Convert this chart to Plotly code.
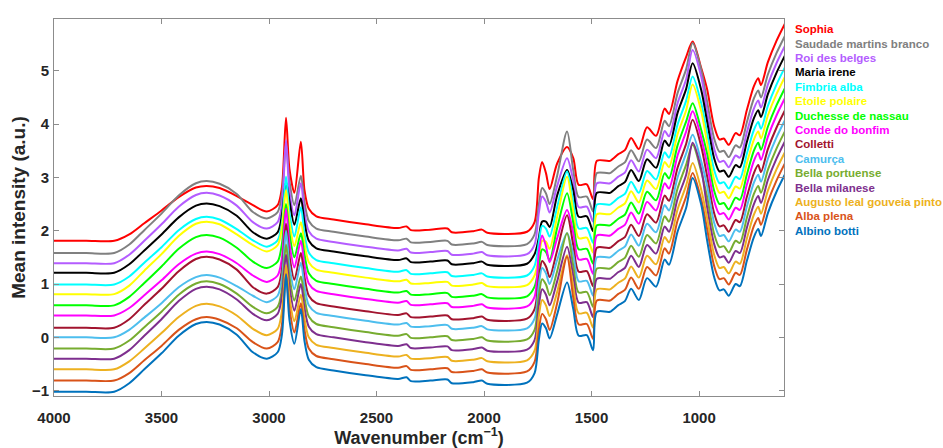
import plotly.graph_objects as go

wavenumber = [4000, 3850, 3720, 3650, 3580, 3500, 3420, 3340, 3290, 3230,
              3150, 3075, 3010, 2960, 2940, 2921, 2905, 2882, 2852, 2835,
              2815, 2780, 2700, 2550, 2400, 2360, 2340, 2250, 2170, 2150,
              2050, 2010, 1985, 1800, 1765, 1745, 1730, 1712, 1695, 1660,
              1614, 1585, 1560, 1522, 1493, 1475, 1414, 1377, 1345, 1316,
              1280, 1242, 1200, 1160, 1140, 1100, 1060, 1030, 990, 963,
              930, 905, 885, 862, 830, 810, 778, 745, 725, 712,
              680, 640, 600]

names = ["Sophia", "Saudade martins branco", "Roi des belges", "Maria irene",
         "Fimbria alba", "Etoile polaire", "Duchesse de nassau", "Conde do bonfim",
         "Colletti", "Camurça", "Bella portuense", "Bella milanese",
         "Augusto leal gouveia pinto", "Alba plena", "Albino botti"]

colors = ["#FF0000", "#808080", "#B45CFF", "#000000", "#00FFFF", "#FFFF00",
          "#00FF00", "#FF00FF", "#A2142F", "#4DBEEE", "#77AC30", "#7E2F8E",
          "#EDB120", "#D95319", "#0072BD"]

sophia = [1.81, 1.81, 1.81, 1.93, 2.14, 2.38, 2.63, 2.81, 2.84, 2.80,
          2.65, 2.48, 2.36, 2.48, 2.81, 4.12, 3.16, 2.71, 3.67, 2.76,
          2.41, 2.27, 2.21, 2.12, 2.05, 2.08, 2.01, 2.02, 2.04, 1.97,
          1.99, 2.02, 1.96, 1.98, 2.16, 2.99, 3.29, 3.08, 2.78, 3.26,
          3.57, 3.36, 2.86, 2.87, 2.59, 3.31, 3.31, 3.43, 3.51, 3.74,
          3.53, 3.94, 3.78, 4.29, 4.19, 4.81, 5.26, 5.55, 5.05, 4.66,
          3.96, 3.71, 3.73, 3.61, 3.83, 3.79, 4.26, 4.71, 4.86, 4.73,
          5.16, 5.56, 5.89]
saudade = [1.58, 1.58, 1.58, 1.74, 2.01, 2.32, 2.66, 2.89, 2.93, 2.88,
           2.69, 2.35, 2.23, 2.35, 2.68, 3.63, 2.93, 2.48, 3.03, 2.53,
           2.18, 2.04, 1.98, 1.89, 1.82, 1.85, 1.78, 1.79, 1.81, 1.74,
           1.76, 1.79, 1.73, 1.75, 1.93, 2.50, 2.80, 2.70, 2.50, 3.03,
           3.86, 3.13, 2.63, 2.64, 2.36, 3.08, 3.08, 3.20, 3.28, 3.51,
           3.30, 3.71, 3.55, 4.06, 3.96, 4.58, 5.03, 5.52, 5.02, 4.43,
           3.73, 3.48, 3.50, 3.38, 3.60, 3.56, 4.03, 4.48, 4.63, 4.50,
           4.93, 5.33, 5.66]
roi = [1.39, 1.39, 1.39, 1.55, 1.81, 2.12, 2.45, 2.67, 2.71, 2.66,
       2.47, 2.16, 2.04, 2.16, 2.49, 3.70, 2.74, 2.29, 2.89, 2.34,
       1.99, 1.85, 1.79, 1.70, 1.63, 1.66, 1.59, 1.60, 1.62, 1.55,
       1.57, 1.60, 1.54, 1.56, 1.74, 2.34, 2.64, 2.54, 2.34, 2.84,
       3.36, 2.94, 2.44, 2.45, 2.17, 2.89, 2.89, 3.01, 3.09, 3.32,
       3.11, 3.52, 3.36, 3.87, 3.77, 4.39, 4.84, 5.39, 4.89, 4.24,
       3.54, 3.29, 3.31, 3.19, 3.41, 3.37, 3.84, 4.29, 4.44, 4.31,
       4.74, 5.14, 5.47]
maria = [1.21, 1.21, 1.21, 1.37, 1.63, 1.93, 2.25, 2.47, 2.51, 2.46,
         2.28, 1.97, 1.85, 1.97, 2.30, 2.92, 2.56, 2.11, 2.61, 2.16,
         1.81, 1.67, 1.61, 1.52, 1.45, 1.48, 1.41, 1.42, 1.44, 1.37,
         1.39, 1.42, 1.36, 1.38, 1.56, 1.87, 2.17, 2.17, 2.07, 2.66,
         3.14, 2.76, 2.26, 2.27, 1.99, 2.71, 2.71, 2.83, 2.91, 3.14,
         2.93, 3.34, 3.18, 3.69, 3.59, 4.21, 4.66, 5.14, 4.64, 4.06,
         3.36, 3.11, 3.13, 3.01, 3.23, 3.19, 3.66, 4.11, 4.26, 4.13,
         4.56, 4.96, 5.29]
fimbria = [0.99, 0.99, 0.99, 1.14, 1.40, 1.69, 2.01, 2.22, 2.26, 2.21,
           2.03, 1.82, 1.70, 1.82, 2.15, 3.01, 2.34, 1.89, 2.44, 1.94,
           1.59, 1.45, 1.39, 1.30, 1.23, 1.26, 1.19, 1.20, 1.22, 1.15,
           1.17, 1.20, 1.14, 1.16, 1.34, 1.79, 2.09, 2.04, 1.89, 2.44,
           3.11, 2.54, 2.04, 2.05, 1.77, 2.49, 2.49, 2.61, 2.69, 2.92,
           2.71, 3.12, 2.96, 3.47, 3.37, 3.99, 4.44, 4.89, 4.39, 3.84,
           3.14, 2.89, 2.91, 2.79, 3.01, 2.97, 3.44, 3.89, 4.04, 3.91,
           4.34, 4.74, 5.07]
etoile = [0.81, 0.81, 0.81, 0.97, 1.25, 1.56, 1.90, 2.13, 2.17, 2.12,
          1.93, 1.73, 1.61, 1.73, 2.06, 2.76, 2.16, 1.71, 2.16, 1.76,
          1.41, 1.27, 1.21, 1.12, 1.05, 1.08, 1.01, 1.02, 1.04, 0.97,
          0.99, 1.02, 0.96, 0.98, 1.16, 1.51, 1.81, 1.79, 1.66, 2.26,
          3.01, 2.36, 1.86, 1.87, 1.59, 2.31, 2.31, 2.43, 2.51, 2.74,
          2.53, 2.94, 2.78, 3.29, 3.19, 3.81, 4.26, 4.74, 4.24, 3.66,
          2.96, 2.71, 2.73, 2.61, 2.83, 2.79, 3.26, 3.71, 3.86, 3.73,
          4.16, 4.56, 4.89]
duchesse = [0.60, 0.60, 0.60, 0.76, 1.02, 1.33, 1.66, 1.88, 1.92, 1.87,
            1.68, 1.42, 1.30, 1.42, 1.75, 2.50, 1.95, 1.50, 1.95, 1.55,
            1.20, 1.06, 1.00, 0.91, 0.84, 0.87, 0.80, 0.81, 0.83, 0.76,
            0.78, 0.81, 0.75, 0.77, 0.95, 1.35, 1.65, 1.60, 1.45, 2.05,
            2.70, 2.15, 1.65, 1.66, 1.38, 2.10, 2.10, 2.22, 2.30, 2.53,
            2.32, 2.73, 2.57, 3.08, 2.98, 3.60, 4.05, 4.39, 3.89, 3.45,
            2.75, 2.50, 2.52, 2.40, 2.62, 2.58, 3.05, 3.50, 3.65, 3.52,
            3.95, 4.35, 4.68]
conde = [0.41, 0.41, 0.41, 0.55, 0.79, 1.07, 1.37, 1.57, 1.61, 1.56,
         1.39, 1.16, 1.04, 1.16, 1.49, 2.41, 1.76, 1.31, 1.81, 1.36,
         1.01, 0.87, 0.81, 0.72, 0.65, 0.68, 0.61, 0.62, 0.64, 0.57,
         0.59, 0.62, 0.56, 0.58, 0.76, 1.61, 1.91, 1.71, 1.41, 1.86,
         2.39, 1.96, 1.46, 1.47, 1.19, 1.91, 1.91, 2.03, 2.11, 2.34,
         2.13, 2.54, 2.38, 2.89, 2.79, 3.41, 3.86, 4.24, 3.74, 3.26,
         2.56, 2.31, 2.33, 2.21, 2.43, 2.39, 2.86, 3.31, 3.46, 3.33,
         3.76, 4.16, 4.49]
colletti = [0.18, 0.18, 0.18, 0.34, 0.61, 0.91, 1.24, 1.47, 1.51, 1.46,
            1.27, 0.94, 0.82, 0.94, 1.27, 2.13, 1.53, 1.08, 1.58, 1.13,
            0.78, 0.64, 0.58, 0.49, 0.42, 0.45, 0.38, 0.39, 0.41, 0.34,
            0.36, 0.39, 0.33, 0.35, 0.53, 1.13, 1.43, 1.33, 1.13, 1.63,
            2.29, 1.73, 1.23, 1.24, 0.96, 1.68, 1.68, 1.80, 1.88, 2.11,
            1.90, 2.31, 2.15, 2.66, 2.56, 3.18, 3.63, 4.08, 3.58, 3.03,
            2.33, 2.08, 2.10, 1.98, 2.20, 2.16, 2.63, 3.08, 3.23, 3.10,
            3.53, 3.93, 4.26]
camurca = [0.00, 0.00, 0.00, 0.14, 0.37, 0.64, 0.94, 1.13, 1.17, 1.12,
           0.96, 0.78, 0.66, 0.78, 1.11, 2.00, 1.35, 0.90, 1.40, 0.95,
           0.60, 0.46, 0.40, 0.31, 0.24, 0.27, 0.20, 0.21, 0.23, 0.16,
           0.18, 0.21, 0.15, 0.17, 0.35, 1.00, 1.30, 1.20, 1.00, 1.45,
           1.95, 1.55, 1.05, 1.06, 0.78, 1.50, 1.50, 1.62, 1.70, 1.93,
           1.72, 2.13, 1.97, 2.48, 2.38, 3.00, 3.45, 3.80, 3.30, 2.85,
           2.15, 1.90, 1.92, 1.80, 2.02, 1.98, 2.45, 2.90, 3.05, 2.92,
           3.35, 3.75, 4.08]
bella_portuense = [-0.21, -0.21, -0.21, -0.06, 0.19, 0.48, 0.80, 1.01, 1.05, 1.00,
                   0.82, 0.57, 0.45, 0.57, 0.90, 1.74, 1.14, 0.69, 1.14, 0.74,
                   0.39, 0.25, 0.19, 0.10, 0.03, 0.06, -0.01, 0.00, 0.02, -0.05,
                   -0.03, 0.00, -0.06, -0.04, 0.14, 0.79, 1.09, 0.99, 0.79, 1.24,
                   1.95, 1.34, 0.84, 0.85, 0.57, 1.29, 1.29, 1.41, 1.49, 1.72,
                   1.51, 1.92, 1.76, 2.27, 2.17, 2.79, 3.24, 3.61, 3.11, 2.64,
                   1.94, 1.69, 1.71, 1.59, 1.81, 1.77, 2.24, 2.69, 2.84, 2.71,
                   3.14, 3.54, 3.87]
bella_milanese = [-0.40, -0.40, -0.40, -0.24, 0.03, 0.34, 0.68, 0.91, 0.95, 0.90,
                  0.71, 0.44, 0.32, 0.44, 0.77, 1.55, 0.95, 0.50, 1.00, 0.55,
                  0.20, 0.06, 0.00, -0.09, -0.16, -0.13, -0.20, -0.19, -0.17, -0.24,
                  -0.22, -0.19, -0.25, -0.23, -0.05, 0.60, 0.90, 0.80, 0.60, 1.05,
                  1.70, 1.15, 0.65, 0.66, 0.38, 1.10, 1.10, 1.22, 1.30, 1.53,
                  1.32, 1.73, 1.57, 2.08, 1.98, 2.60, 3.05, 3.65, 3.15, 2.45,
                  1.75, 1.50, 1.52, 1.40, 1.62, 1.58, 2.05, 2.50, 2.65, 2.52,
                  2.95, 3.35, 3.68]
augusto = [-0.60, -0.60, -0.60, -0.45, -0.21, 0.08, 0.38, 0.59, 0.63, 0.58,
           0.41, 0.16, 0.04, 0.16, 0.49, 1.35, 0.75, 0.30, 0.80, 0.35,
           0.00, -0.14, -0.20, -0.29, -0.36, -0.33, -0.40, -0.39, -0.37, -0.44,
           -0.42, -0.39, -0.45, -0.43, -0.25, 0.40, 0.70, 0.60, 0.40, 0.85,
           1.54, 0.95, 0.45, 0.46, 0.18, 0.90, 0.90, 1.02, 1.10, 1.33,
           1.12, 1.53, 1.37, 1.88, 1.78, 2.40, 2.85, 3.27, 2.77, 2.25,
           1.55, 1.30, 1.32, 1.20, 1.42, 1.38, 1.85, 2.30, 2.45, 2.32,
           2.75, 3.15, 3.48]
alba_plena = [-0.81, -0.81, -0.81, -0.67, -0.43, -0.16, 0.14, 0.34, 0.38, 0.33,
              0.17, -0.09, -0.21, -0.09, 0.24, 1.19, 0.54, 0.09, 0.64, 0.14,
              -0.21, -0.35, -0.41, -0.50, -0.57, -0.54, -0.61, -0.60, -0.58, -0.65,
              -0.63, -0.60, -0.66, -0.64, -0.46, 0.14, 0.44, 0.34, 0.14, 0.64,
              1.51, 0.74, 0.24, 0.25, -0.03, 0.69, 0.69, 0.81, 0.89, 1.12,
              0.91, 1.32, 1.16, 1.67, 1.57, 2.19, 2.64, 3.08, 2.58, 2.04,
              1.34, 1.09, 1.11, 0.99, 1.21, 1.17, 1.64, 2.09, 2.24, 2.11,
              2.54, 2.94, 3.27]
albino = [-1.02, -1.02, -1.02, -0.86, -0.60, -0.30, 0.03, 0.25, 0.29, 0.24,
          0.05, -0.28, -0.40, -0.28, 0.05, 1.18, 0.33, -0.12, 0.53, -0.07,
          -0.42, -0.56, -0.62, -0.71, -0.78, -0.75, -0.82, -0.81, -0.79, -0.86,
          -0.84, -0.81, -0.87, -0.85, -0.67, -0.04, 0.26, 0.17, -0.02, 0.43,
          1.03, 0.53, 0.03, 0.04, -0.24, 0.48, 0.48, 0.60, 0.68, 0.91,
          0.70, 1.11, 0.95, 1.46, 1.36, 1.98, 2.43, 2.99, 2.49, 1.83,
          1.13, 0.88, 0.90, 0.78, 1.00, 0.96, 1.43, 1.88, 2.03, 1.90,
          2.33, 2.73, 3.06]

series = [sophia, saudade, roi, maria, fimbria, etoile, duchesse, conde,
          colletti, camurca, bella_portuense, bella_milanese, augusto,
          alba_plena, albino]

x_ticks = [1000, 1500, 2000, 2500, 3000, 3500, 4000]
y_ticks = [-1, 0, 1, 2, 3, 4, 5]

FONT = "Liberation Sans, Arial, sans-serif"
AX = "#8c8c8c"

fig = go.Figure()
for name, col, vals in zip(names, colors, series):
    fig.add_trace(go.Scatter(x=wavenumber, y=vals, name=name, mode="lines",
                             line=dict(color=col, width=2, shape="spline", smoothing=0.8),
                             showlegend=False))

# legend drawn as coloured text beside the axes
plot_top, plot_bottom = 19, 396
for k, (name, col) in enumerate(zip(names, colors)):
    ypx = 29.3 + 14.39 * k
    fig.add_annotation(xref="paper", yref="paper", x=1.0123,
                       y=(plot_bottom - ypx) / (plot_bottom - plot_top),
                       xanchor="left", yanchor="middle", showarrow=False,
                       text=f"<b>{name}</b>",
                       font=dict(family=FONT, size=11.5, color=col))

fig.update_layout(
    width=943, height=448,
    margin=dict(l=54, r=159, t=19, b=52),
    paper_bgcolor="white", plot_bgcolor="white",
    font=dict(family=FONT, color="#262626"),
)
fig.update_xaxes(range=[4000, 605], tickvals=x_ticks,
                 ticks="inside", ticklen=5, tickcolor=AX,
                 showline=True, linecolor=AX, linewidth=1, mirror="ticks",
                 showgrid=False, zeroline=False, automargin=False,
                 tickfont=dict(family=FONT, size=15, color="#262626", weight="bold"),
                 ticklabelstandoff=8,
                 title=dict(text="<b>Wavenumber (cm<sup>−1</sup>)</b>", standoff=4,
                            font=dict(family=FONT, size=18, color="#262626")))
fig.update_yaxes(range=[-1.1, 5.97], tickvals=y_ticks,
                 ticks="inside", ticklen=5, tickcolor=AX,
                 showline=True, linecolor=AX, linewidth=1, mirror="ticks",
                 showgrid=False, zeroline=False, automargin=False,
                 tickfont=dict(family=FONT, size=15, color="#262626", weight="bold"),
                 ticklabelstandoff=1,
                 title=dict(text="<b>Mean intensity (a.u.)</b>", standoff=1,
                            font=dict(family=FONT, size=19, color="#262626")))

fig.write_html("out.html", config={"displayModeBar": False},
               post_script="document.body.style.margin='0px';")
